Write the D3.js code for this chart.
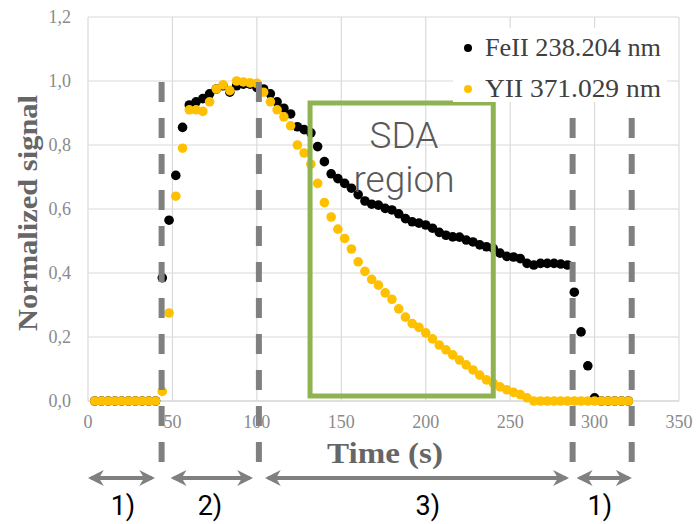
<!DOCTYPE html>
<html>
<head>
<meta charset="utf-8">
<script src="https://cdn.jsdelivr.net/npm/d3@7"></script>
<style>
  body { margin: 0; background: #fff; }
  svg { display: block; }
</style>
</head>
<body>
<svg width="696" height="524"></svg>
<script>
// sampling times (s)
var times = [4, 8, 12, 16, 20, 24, 28, 32, 36, 40,
	44, 48, 52, 56, 60, 64, 68, 72, 76, 80,
	84, 88, 92, 96, 100, 104, 108, 112, 116, 120,
	124, 128, 132, 136, 140, 144, 148, 152, 156, 160,
	164, 168, 172, 176, 180, 184, 188, 192, 196, 200,
	204, 208, 212, 216, 220, 224, 228, 232, 236, 240,
	244, 248, 252, 256, 260, 264, 268, 272, 276, 280,
	284, 288, 292, 296, 300, 304, 308, 312, 316, 320];

var feValues = [0, 0, 0, 0, 0, 0, 0, 0, 0, 0,
	0.385, 0.565, 0.705, 0.855, 0.925, 0.935, 0.945, 0.96, 0.975, 0.985,
	0.965, 0.985, 0.99, 0.99, 0.98, 0.975, 0.96, 0.935, 0.915, 0.897,
	0.857, 0.848, 0.838, 0.795, 0.748, 0.71, 0.695, 0.68, 0.665, 0.645,
	0.625, 0.615, 0.612, 0.602, 0.597, 0.585, 0.57, 0.56, 0.556, 0.55,
	0.54, 0.527, 0.518, 0.513, 0.512, 0.503, 0.497, 0.488, 0.482, 0.477,
	0.462, 0.452, 0.45, 0.445, 0.43, 0.425, 0.43, 0.43, 0.43, 0.428,
	0.425, 0.34, 0.216, 0.11, 0.01, 0, 0, 0, 0, 0];

var yValues = [0, 0, 0, 0, 0, 0, 0, 0, 0, 0,
	0.03, 0.275, 0.64, 0.79, 0.91, 0.91, 0.905, 0.935, 0.975, 0.988,
	0.97, 1.0, 0.997, 0.994, 0.993, 0.965, 0.935, 0.91, 0.888, 0.86,
	0.80, 0.775, 0.74, 0.68, 0.62, 0.575, 0.537, 0.508, 0.475, 0.435,
	0.405, 0.38, 0.362, 0.338, 0.318, 0.288, 0.262, 0.242, 0.23, 0.213,
	0.194, 0.175, 0.16, 0.144, 0.128, 0.113, 0.097, 0.081, 0.066, 0.056,
	0.044, 0.035, 0.027, 0.02, 0.01, 0, 0, 0, 0, 0,
	0, 0, 0, 0, 0, 0, 0, 0, 0, 0];

var seriesNames = ['FeII 238.204 nm', 'YII 371.029 nm'];
var xTicks = [0, 50, 100, 150, 200, 250, 300, 350];
var yTicks = [0, 0.2, 0.4, 0.6, 0.8, 1.0, 1.2];

// phase boundaries (s) and labels
var phaseLines = [43.6, 101.2, 287, 322];
var phaseStarts = [0, 49, 104.8, 289.5];
var phaseEnds = [39.7, 97.7, 284.8, 322];
var phaseLabels = ['1)', '2)', '3)', '1)'];
var phaseLabelAt = [20.7, 72.2, 201.3, 303.1];
var sdaRange = [131.5, 240];

function main() {
	var svg = d3.select('svg');
	var x = d3.scaleLinear().domain([0, 350]).range([88, 679]);
	var y = d3.scaleLinear().domain([0, 1.2]).range([401, 17]);
	var fmt = function(d) { return d3.format('.1f')(d).replace('.', ','); };

	// gridlines
	svg.append('g').selectAll('line.h')
		.data(yTicks).enter().append('line')
		.attr('x1', x(0)).attr('x2', x(350))
		.attr('y1', function(d) { return y(d); })
		.attr('y2', function(d) { return y(d); })
		.attr('stroke', function(d) { return d === 0 ? '#bfbfbf' : '#dadada'; })
		.attr('stroke-width', 1.2);
	svg.append('g').selectAll('line.v')
		.data(xTicks).enter().append('line')
		.attr('y1', y(0)).attr('y2', y(1.2))
		.attr('x1', function(d) { return x(d); })
		.attr('x2', function(d) { return x(d); })
		.attr('stroke', '#dadada')
		.attr('stroke-width', 1.2);

	// tick labels
	svg.append('g').selectAll('text')
		.data(yTicks).enter().append('text')
		.attr('x', 71)
		.attr('y', function(d) { return y(d) + 6; })
		.attr('text-anchor', 'end')
		.attr('font-family', 'Liberation Serif, serif')
		.attr('font-size', 18)
		.attr('fill', '#8a8a8a')
		.text(fmt);
	svg.append('g').selectAll('text')
		.data(xTicks).enter().append('text')
		.attr('x', function(d) { return x(d); })
		.attr('y', 428)
		.attr('text-anchor', 'middle')
		.attr('font-family', 'Liberation Serif, serif')
		.attr('font-size', 18)
		.attr('fill', '#8a8a8a')
		.text(function(d) { return d; });

	// axis titles
	svg.append('text')
		.attr('transform', 'translate(37,' + 213 + ') rotate(-90)')
		.attr('text-anchor', 'middle')
		.attr('font-family', 'Liberation Serif, serif')
		.attr('font-weight', 'bold')
		.attr('font-size', 28)
		.attr('fill', '#666666')
		.attr('textLength', 236)
		.attr('lengthAdjust', 'spacingAndGlyphs')
		.text('Normalized signal');
	svg.append('text')
		.attr('x', 385).attr('y', 463)
		.attr('text-anchor', 'middle')
		.attr('font-family', 'Liberation Serif, serif')
		.attr('font-weight', 'bold')
		.attr('font-size', 30)
		.attr('fill', '#666666')
		.attr('textLength', 116)
		.attr('lengthAdjust', 'spacingAndGlyphs')
		.text('Time (s)');

	// data points
	var fe = times.map(function(t, i) { return {t: t, v: feValues[i]}; });
	var yi = times.map(function(t, i) { return {t: t, v: yValues[i]}; });
	var color = d3.scaleOrdinal().domain(seriesNames).range(['#000000', '#ffc000']);

	[fe, yi].forEach(function(series, k) {
		svg.append('g').selectAll('circle')
			.data(series).enter().append('circle')
			.attr('cx', function(d) { return x(d.t); })
			.attr('cy', function(d) { return y(d.v); })
			.attr('r', 4.8)
			.attr('fill', color(seriesNames[k]));
	});

	// SDA region box
	svg.append('rect')
		.attr('x', x(sdaRange[0])).attr('y', 103)
		.attr('width', x(sdaRange[1]) - x(sdaRange[0]))
		.attr('height', 293)
		.attr('fill', 'none')
		.attr('stroke', '#8fb351')
		.attr('stroke-width', 5);
	var sda = svg.append('text')
		.attr('text-anchor', 'middle')
		.attr('font-family', 'Roboto, sans-serif')
		.attr('font-weight', 300)
		.attr('font-size', 37)
		.attr('fill', '#595959');
	sda.append('tspan').attr('x', 404).attr('y', 148).text('SDA');
	sda.append('tspan').attr('x', 404).attr('y', 192).text('region');

	// dashed phase boundaries
	svg.append('g').selectAll('line')
		.data(phaseLines).enter().append('line')
		.attr('x1', function(d) { return x(d); })
		.attr('x2', function(d) { return x(d); })
		.attr('y1', 82).attr('y2', 470)
		.attr('stroke', '#808080')
		.attr('stroke-width', 6)
		.attr('stroke-dasharray', '20,16');

	// legend
	svg.append('rect')
		.attr('x', 453).attr('y', 28).attr('width', 214).attr('height', 74)
		.attr('fill', '#fff');
	seriesNames.forEach(function(name, i) {
		svg.append('circle')
			.attr('cx', 468).attr('cy', 48 + i * 41)
			.attr('r', 4)
			.attr('fill', color(name));
		svg.append('text')
			.attr('x', 485).attr('y', 56 + i * 41)
			.attr('font-family', 'Liberation Serif, serif')
			.attr('font-size', 25)
			.attr('fill', '#404040')
			.attr('textLength', 176)
			.attr('lengthAdjust', 'spacingAndGlyphs')
			.text(name);
	});

	// phase arrows
	var defs = svg.append('defs');
	defs.append('marker')
		.attr('id', 'head')
		.attr('viewBox', '0 0 10 10')
		.attr('refX', 8).attr('refY', 5)
		.attr('markerWidth', 4).attr('markerHeight', 4)
		.attr('orient', 'auto-start-reverse')
		.append('path')
		.attr('d', 'M0,0 L10,5 L0,10 L3,5 Z')
		.attr('fill', '#808080');

	var arrows = svg.append('g').selectAll('g')
		.data(phaseLabels).enter().append('g');
	arrows.append('line')
		.attr('x1', function(d, i) { return x(phaseStarts[i]) + 3; })
		.attr('x2', function(d, i) { return x(phaseEnds[i]) - 3; })
		.attr('y1', 478).attr('y2', 478)
		.attr('stroke', '#808080')
		.attr('stroke-width', 4)
		.attr('marker-start', 'url(#head)')
		.attr('marker-end', 'url(#head)');
	arrows.append('text')
		.attr('x', function(d, i) { return x(phaseLabelAt[i]); })
		.attr('y', 515)
		.attr('text-anchor', 'middle')
		.attr('font-family', 'Roboto, sans-serif')
		.attr('font-size', 27)
		.attr('fill', '#000')
		.text(function(d) { return d; });
}
main();
</script>
</body>
</html>
